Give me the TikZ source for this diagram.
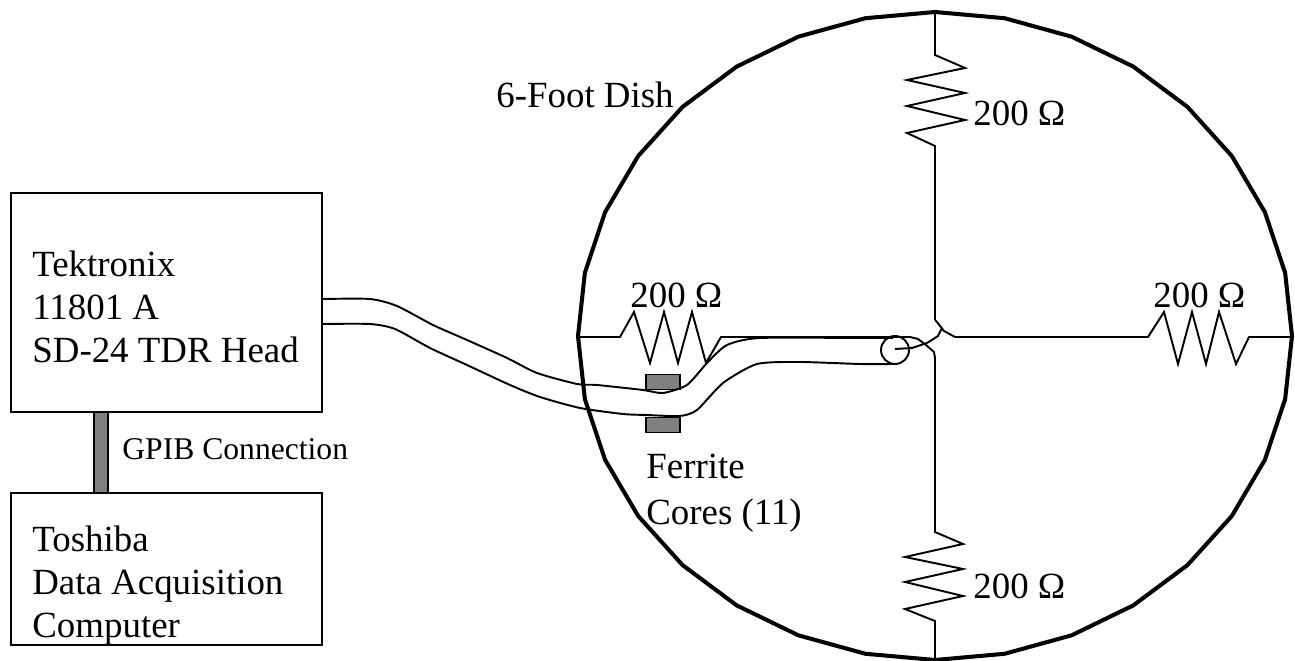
\documentclass[tikz,border=0pt]{standalone}
\usepackage{fontspec}
\setmainfont{Liberation Serif}
\begin{document}
\begin{tikzpicture}[x=0.02cm, y=-0.02cm, wire/.style={line width=1.1pt, line join=miter}]
    \tikzset{boite/.style={rectangle, minimum width=6.22cm, draw=black, line width=1.1pt}};
    \tikzset{noyau/.style={rectangle, minimum width=0.68cm, minimum height=0.3cm, draw=black, line width=1.1pt, fill=black!50}};
    \tikzset{legende/.style={anchor=west, inner sep=0pt, align=left, font=\fontsize{21}{24.5}\selectfont}};
    \useasboundingbox (0, 0) rectangle (1295, 661);

    \draw[line width=2.3pt, line join=round] plot[samples=33, domain=0:360] ({935+357*sin(\x)}, {336-324*cos(\x)}) -- cycle;
    \coordinate (dishN) at (935, 12);
    \coordinate (dishS) at (935, 659);
    \coordinate (dishW) at (579, 337);
    \coordinate (dishE) at (1291, 337);
    \coordinate (hubN) at (935, 320);
    \coordinate (hubS) at (935, 358);
    \coordinate (hubE) at (955, 337);
    \coordinate (hubW) at (910, 337);

    \node[boite, minimum height=4.38cm] (tek) at (166.5, 302.5) {};
    \node[boite, minimum height=3.04cm] (toshiba) at (166.5, 569) {};
    \node[noyau, minimum width=0.28cm, minimum height=1.62cm] (gpib) at (101, 452.5) {};
    \node[noyau] (core1) at (663, 382) {};
    \node[noyau] (core2) at (663, 425) {};
    \coordinate (cableA) at (322, 299);
    \coordinate (cableB) at (322, 324);
    \node[draw=black, line width=1.1pt, circle, minimum size=0.56cm, inner sep=0pt] (loop) at (895, 350) {};
    \coordinate (centre) at (895, 349);

    \draw[wire] (dishN) -- (935, 55) -- (965, 68) -- (907, 80) -- (965, 93) -- (907, 106) -- (965, 120) -- (907, 133) -- (935, 146) -- (hubN);
    \draw[wire] (hubS) -- (935, 532) -- (963, 544) -- (905, 557) -- (963, 569) -- (905, 582) -- (963, 596) -- (905, 609) -- (935, 621) -- (dishS);
    \draw[wire] (dishW) -- (620, 337) -- (634, 312) -- (650, 363) -- (664, 312) -- (678, 363) -- (692, 312) -- (706, 363) -- (721, 337) -- (hubW);
    \draw[wire] (hubE) -- (1148, 337) -- (1164, 312) -- (1178, 364) -- (1192, 312) -- (1206, 364) -- (1219, 312) -- (1236, 364) -- (1249, 337) -- (dishE);
    \draw[wire] (hubN) -- (937, 322) -- (944, 331) -- (hubE);
    \draw[wire] (hubS) -- (934, 352) -- (926, 345) -- (918, 339) -- (hubW);
    \draw[wire] (centre) -- (912, 348) -- (927, 343) -- (938, 336) -- (942, 328);

    \draw[wire] plot[smooth, tension=0.4] coordinates {(cableA) (370, 299) (397, 306) (433, 325) (467, 340) (507, 358) (537, 373) (577, 384) (597, 385) (643, 390) (663, 393) (687, 385) (707, 363) (727, 345) (760, 338) (860, 338) (893, 338)};
    \draw[wire] plot[smooth, tension=0.4] coordinates {(cableB) (370, 324) (395, 329) (430, 348) (467, 365) (510, 385) (540, 397) (580, 408) (623, 414) (647, 415) (680, 416) (697, 410) (723, 383) (757, 364) (800, 362) (860, 364) (893, 364)};

    \node[legende] (tekT) at (32, 307) {Tektronix\\11801 A\\SD-24 TDR Head};
    \node[legende] (toshibaT) at (32, 586) {Toshiba\\Data Acquisition\\Computer};
    \node[legende, font=\fontsize{18}{22}\selectfont] (gpibT) at (122, 449) {GPIB Connection};
    \node[legende] (dishT) at (496, 95) {6-Foot Dish};
    \node[legende] (coreT) at (646, 493) {Ferrite\\[1.5pt]Cores (11)};
    \node[legende] (r1) at (973, 113) {200 Ω};
    \node[legende] (r2) at (973, 586) {200 Ω};
    \node[legende] (r3) at (630, 295) {200 Ω};
    \node[legende] (r4) at (1153, 295) {200 Ω};
\end{tikzpicture}
\end{document}
